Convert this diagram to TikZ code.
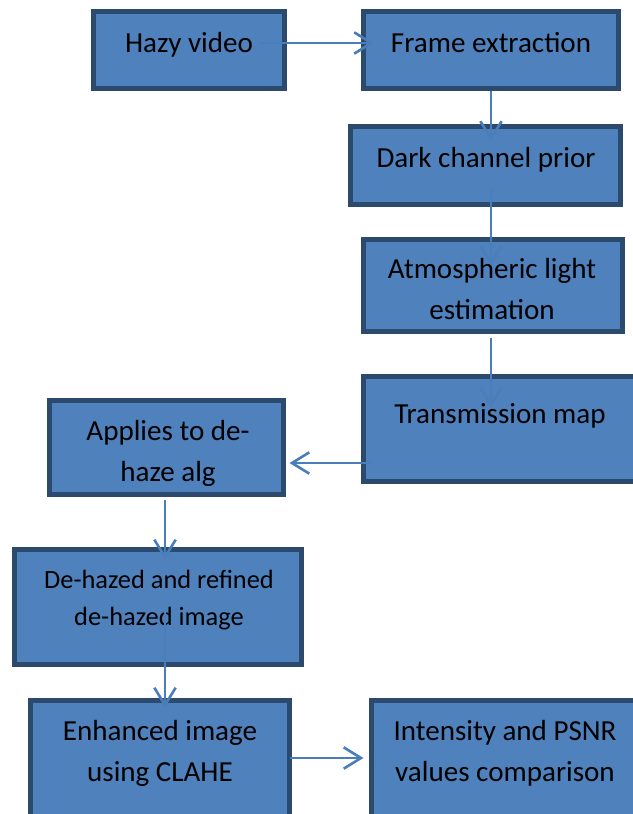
\documentclass[tikz,border=0pt]{standalone}
\usepackage{fontspec}
\setmainfont{Carlito}
\usetikzlibrary{arrows.meta,calc}
\definecolor{boxfill}{HTML}{4F81BD}
\definecolor{boxline}{HTML}{2C4A6E}
\definecolor{flowline}{HTML}{4A7EBB}
\newlength\px \setlength\px{0.75pt}

\begin{document}
\begin{tikzpicture}[x=0.75pt,y=-0.75pt,
    box/.style 2 args={draw=boxline, fill=boxfill, line width=5\px, inner sep=0pt,
      minimum width=#1\px, minimum height=#2\px},
    lbl/.style={font=\fontsize{21.8}{30.75}\selectfont, align=center, inner sep=0pt},
    lblsm/.style={lbl, font=\fontsize{19.8}{27.75}\selectfont},
    flow/.style={draw=flowline, line width=2.6\px, -{Straight Barb[length=13pt, width=16pt]}}]
  \useasboundingbox (0,0) rectangle (632,814);

  % boxes
  \node[box={191}{77}]  (hazy)    at (189,50)      {};
  \node[box={255}{77}]  (frame)   at (491,50)      {};
  \node[box={270}{78}]  (dark)    at (485.5,165.5) {};
  \node[box={259}{92}]  (atmos)   at (493,285.5)   {};
  \node[box={274}{105}] (trans)   at (500.5,429)   {};
  \node[box={234}{94}]  (apply)   at (166.5,447.5) {};
  \node[box={287}{115}] (dehazed) at (158,607)     {};
  \node[box={259}{117}] (enhance) at (160,759)     {};
  \node[box={266}{117}] (psnr)    at (504.5,759)   {};

  % texts
  \node[lbl, anchor=base] (hazy-t)  at (189,52)  {Hazy video};
  \node[lbl, anchor=base] (frame-t) at (491,52)  {Frame extraction};
  \node[lbl, anchor=base] (dark-t)  at (486,167) {Dark channel prior};
  \node[lbl] (atmos-t) at (492,289) {Atmospheric light\\estimation};
  \node[lbl, anchor=base] (trans-t) at (500,423) {Transmission map};
  \node[lbl] (apply-t) at (168,453.4) {Applies to de-\\haze alg};
  \node[lblsm] (dehazed-t) at (159,600) {De-hazed and refined\\de-hazed image};
  \node[lbl] (enhance-t) at (160,753) {Enhanced image\\using CLAHE};
  \node[lbl] (psnr-t) at (505,753) {Intensity and PSNR\\values comparison};

  % connectors
  \draw[flow] ($(hazy.east)+(-26,-7)$) -- ($(frame.west)+(13,-7)$);
  \draw[flow] (frame.south) -- ($(frame.south |- dark.north)+(0,17)$);
  \draw[flow] ($(dark.south)+(5.5,-17.5)$) -- ($(atmos.north)+(-2,28.5)$);
  \draw[flow] ($(atmos.south)+(-2,3.5)$) -- ($(trans.north)+(-9.5,33.5)$);
  \draw[flow] ($(trans.west)+(8.5,34)$) -- ($(apply.east)+(3.5,15.5)$);
  \draw[flow] ($(apply.south)+(-1.5,2.5)$) -- ($(dehazed.north)+(7,12.5)$);
  \draw[flow] ($(dehazed.center)+(7,5)$) -- ($(enhance.north)+(5,9.5)$);
  \draw[flow] ($(enhance.east)+(-2.5,-1)$) -- ($(psnr.west)+(-5.5,-1)$);
\end{tikzpicture}
\end{document}
